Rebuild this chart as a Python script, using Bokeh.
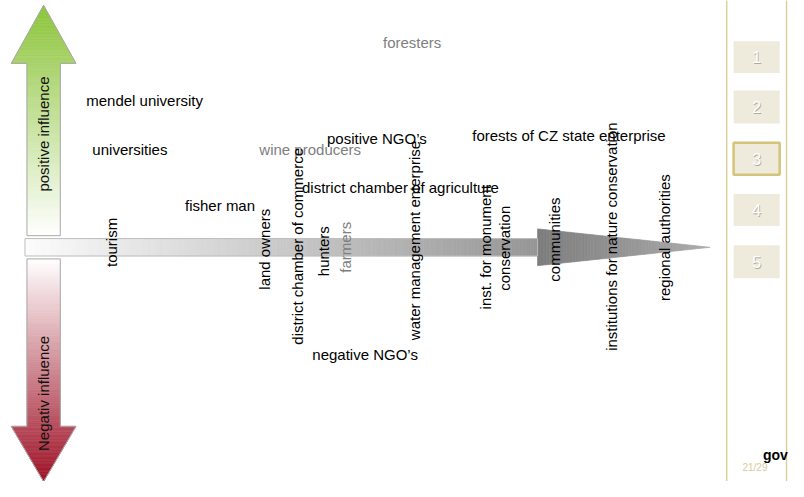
import numpy as np
from bokeh.plotting import figure
from bokeh.models import Range1d
from bokeh.core.properties import value
from bokeh.embed import file_html
from bokeh.resources import INLINE

FONT = "Liberation Sans"
FS = "15px"

# ---- stakeholders written horizontally (x = position, y = influence above axis)
h_labels = ["foresters", "mendel university", "universities", "wine producers",
            "positive NGO\u2019s", "forests of CZ state enterprise",
            "district chamber of agriculture", "fisher man", "negative NGO\u2019s"]
h_x = [420, 147, 132, 316, 384, 580, 408, 224, 372]
h_y = [212, 152, 101, 101, 112, 116, 62, 43, -111]
h_grey = [True, False, False, True, False, False, False, False, False]

# ---- stakeholders written vertically
v_labels = ["tourism", "land owners", "district chamber of commerce", "hunters",
            "farmers", "water management enterprise", "inst. for monument",
            "conservation", "communities", "institutions for nature conservation",
            "regional authorities"]
v_x = [113, 269, 303, 330, 352, 422, 495, 514, 565, 623, 677]
v_y = [5, -2, 1, -4, 0, 7, 0, -1, 8, 11, 10]
v_grey = [False, False, False, False, True, False, False, False, False, False, False]

# ---- navigation
nav_labels = ["1", "2", "3", "4", "5"]
nav_top = [213, 162, 108, 55, 2]
nav_bottom = [180, 128, 75, 22, -32]
nav_active = "3"
page_label = "21/29"

p = figure(width=788, height=481, x_range=Range1d(0, 804), y_range=Range1d(-242, 255),
           output_backend="svg", toolbar_location=None, min_border=0)
p.axis.visible = False
p.grid.visible = False
p.outline_line_color = None
p.background_fill_color = "white"
p.border_fill_color = "white"


def mix(c0, c1, t):
    t = min(max(t, 0.0), 1.0)
    return "#%02x%02x%02x" % tuple(int(round(a + (b - a) * t)) for a, b in zip(c0, c1))


def strips(xs, ys, cols):
    p.patches(xs, ys, fill_color=cols, line_color=cols, line_width=0.7)


# ---------- vertical arrows (gradient strips)
def vert_arrow(cx, shaft_half, head_half, y_base, y_head, y_tip, y_white, c_dark):
    xs, ys, cs = [], [], []
    span = y_tip - y_white
    ed = np.linspace(y_base, y_head, 91)
    for a, b in zip(ed[:-1], ed[1:]):
        xs.append([cx - shaft_half, cx + shaft_half, cx + shaft_half, cx - shaft_half])
        ys.append([a, a, b, b])
        cs.append(mix((255, 255, 255), c_dark, ((a + b) / 2 - y_white) / span))
    ed = np.linspace(y_head, y_tip, 41)
    for a, b in zip(ed[:-1], ed[1:]):
        ha = head_half * (y_tip - a) / (y_tip - y_head)
        hb = head_half * (y_tip - b) / (y_tip - y_head)
        xs.append([cx - ha, cx + ha, cx + hb, cx - hb])
        ys.append([a, a, b, b])
        cs.append(mix((255, 255, 255), c_dark, ((a + b) / 2 - y_white) / span))
    strips(xs, ys, cs)
    ox = [cx - shaft_half, cx + shaft_half, cx + shaft_half, cx + head_half, cx,
          cx - head_half, cx - shaft_half]
    oy = [y_base, y_base, y_head, y_head, y_tip, y_head, y_head]
    p.patch(ox, oy, fill_color=None, line_color="#a9a9a9", line_width=1)


vert_arrow(44, 17, 33, 12, 190, 250, 12, (140, 196, 58))
vert_arrow(44, 17, 33, -12, -185, -242, -12, (158, 18, 38))

# ---------- horizontal arrow
xs, ys, cs = [], [], []
ed = np.linspace(25, 548, 140)
for a, b in zip(ed[:-1], ed[1:]):
    xs.append([a, b, b, a])
    ys.append([-9, -9, 9, 9])
    cs.append(mix((252, 252, 252), (150, 150, 150), ((a + b) / 2 - 25) / 523))
ed = np.linspace(548, 724, 60)
for a, b in zip(ed[:-1], ed[1:]):
    ha = 19 * (724 - a) / 176
    hb = 19 * (724 - b) / 176
    xs.append([a, b, b, a])
    ys.append([-ha, -hb, hb, ha])
    cs.append(mix((125, 125, 125), (172, 172, 172), ((a + b) / 2 - 548) / 176))
strips(xs, ys, cs)
p.patch([25, 548, 548, 25], [-9, -9, 9, 9], fill_color=None, line_color="#bdbdbd", line_width=1)

# ---------- axis captions
p.text(x=[44], y=[117], text=["positive influence"], angle=np.pi / 2,
       text_align="center", text_baseline="middle", text_color="#111111",
       text_font=value(FONT), text_font_size=FS)
p.text(x=[44], y=[-151], text=["Negativ influence"], angle=np.pi / 2,
       text_align="center", text_baseline="middle", text_color="#111111",
       text_font=value(FONT), text_font_size=FS)

# ---------- stakeholder labels
p.text(x=h_x, y=h_y, text=h_labels,
       text_color=["#808080" if g else "#000000" for g in h_grey],
       text_align="center", text_baseline="middle",
       text_font=value(FONT), text_font_size=FS)
p.text(x=v_x, y=v_y, text=v_labels, angle=np.pi / 2,
       text_color=["#808080" if g else "#000000" for g in v_grey],
       text_align="center", text_baseline="middle",
       text_font=value(FONT), text_font_size=FS)

# ---------- sidebar
p.segment(x0=[741, 802], y0=[-245, -245], x1=[741, 802], y1=[258, 258],
          line_color="#d9cb8e", line_width=1.3)
p.quad(left=[748] * 5, right=[795] * 5, top=nav_top, bottom=nav_bottom,
       fill_color="#eeebdc",
       line_color=["#d4c47a" if n == nav_active else None for n in nav_labels],
       line_width=2.5)
ny = [(t + b) / 2 for t, b in zip(nav_top, nav_bottom)]
p.text(x=[772.4] * 5, y=[v - 0.9 for v in ny], text=nav_labels, text_color="#aeaa9c",
       text_align="center", text_baseline="middle",
       text_font=value(FONT), text_font_size="16px")
p.text(x=[771.5] * 5, y=ny, text=nav_labels, text_color="#ffffff",
       text_align="center", text_baseline="middle",
       text_font=value(FONT), text_font_size="16px")

p.text(x=[778], y=[-215], text=["gov"], text_color="#000000", text_align="left",
       text_baseline="middle", text_font=value(FONT), text_font_size="14px",
       text_font_style="bold")
p.text(x=[757], y=[-228], text=[page_label], text_color="#d8cc9c", text_align="left",
       text_baseline="middle", text_font=value(FONT), text_font_size="10px")

open("out.html", "w").write(file_html(p, INLINE))
